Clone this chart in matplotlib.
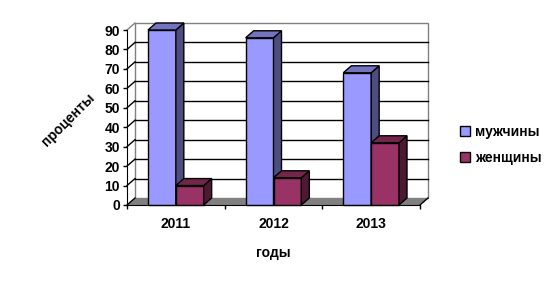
import numpy as np
import matplotlib
matplotlib.use("Agg")
import matplotlib.pyplot as plt
from matplotlib.patches import Polygon, Patch

years = ["2011", "2012", "2013"]
men = [90, 86, 68]       # мужчины
women = [10, 14, 32]     # женщины
yticks = [0, 10, 20, 30, 40, 50, 60, 70, 80, 90]

men_cols = ("#9999FF", "#4D4D80", "#7373BF")     # front, side, top
women_cols = ("#993366", "#4D1A33", "#732649")

plt.rcParams['font.family'] = ['Liberation Sans', 'DejaVu Sans']
plt.rcParams['font.weight'] = 'bold'

fig = plt.figure(figsize=(5.58, 2.86), dpi=100)
W, H = 558, 286
ax = fig.add_axes([127 / W, 81 / H, 293 / W, 175 / H])
ax.set_xlim(-0.5, 2.5)
ax.set_ylim(0, 90)

# depth of the 3d box, in pixels -> data units
dx = 8 * 3.0 / 293
dy = 7 * 90.0 / 175
x0, x1 = -0.5, 2.5
ytop = yticks[-1]

# back wall + floor
ax.add_patch(Polygon([(x0 + dx, dy), (x1 + dx, dy), (x1 + dx, ytop + dy), (x0 + dx, ytop + dy)],
                     closed=True, facecolor="white", edgecolor="#808080", lw=1, clip_on=False, zorder=1))
ax.add_patch(Polygon([(x0, 0), (x1, 0), (x1 + dx, dy), (x0 + dx, dy)],
                     closed=True, facecolor="#808080", edgecolor="none", clip_on=False, zorder=1))
ax.plot([x0, x0 + dx], [ytop, ytop + dy], color="#808080", lw=1, clip_on=False, zorder=1)

# gridlines on the back wall, diagonals on the left wall
for t in yticks:
    if 0 < t < ytop:
        ax.plot([x0 + dx, x1 + dx], [t + dy, t + dy], color="black", lw=1, clip_on=False, zorder=2)
    if t < ytop:
        ax.plot([x0, x0 + dx], [t, t + dy], color="black", lw=1, clip_on=False, zorder=2)
ax.plot([x1, x1 + dx], [0, dy], color="black", lw=1, clip_on=False, zorder=2)

bw = 0.285


def bar3d(xl, v, cols, z):
    xr = xl + bw
    ax.add_patch(Polygon([(xl, 0), (xr, 0), (xr, v), (xl, v)], closed=True,
                         facecolor=cols[0], edgecolor="black", lw=1, clip_on=False, zorder=z))
    ax.add_patch(Polygon([(xr, 0), (xr + dx, dy), (xr + dx, v + dy), (xr, v)], closed=True,
                         facecolor=cols[1], edgecolor="black", lw=1, clip_on=False, zorder=z))
    ax.add_patch(Polygon([(xl, v), (xr, v), (xr + dx, v + dy), (xl + dx, v + dy)], closed=True,
                         facecolor=cols[2], edgecolor="black", lw=1, clip_on=False, zorder=z))


for i in range(len(years)):
    bar3d(i - bw, men[i], men_cols, 3 + 2 * i)
    bar3d(i, women[i], women_cols, 4 + 2 * i)

# axes
for s in ["top", "right"]:
    ax.spines[s].set_visible(False)
ax.spines["left"].set_zorder(10)
ax.spines["bottom"].set_zorder(10)
ax.set_yticks(yticks)
ax.set_yticklabels([str(t) for t in yticks], fontsize=10, fontweight="bold")
ax.tick_params(axis="y", length=3, width=1, pad=2)
ax.set_xticks([-0.5, 0.5, 1.5, 2.5])
ax.set_xticklabels([])
ax.set_xticks(range(len(years)), minor=True)
ax.set_xticklabels(years, minor=True, fontsize=10, fontweight="bold")
ax.tick_params(axis="x", which="major", length=3, width=1)
ax.tick_params(axis="x", which="minor", length=0, pad=9)

fig.text(68 / W, 1 - 120 / H, "проценты", rotation=45, ha="center", va="center",
         fontsize=10, fontweight="bold", rotation_mode="anchor")
fig.text(273 / W, 1 - 253 / H, "годы", ha="center", va="center", fontsize=10, fontweight="bold")

handles = [Patch(facecolor=men_cols[0], edgecolor="black", lw=1),
           Patch(facecolor=women_cols[0], edgecolor="black", lw=1)]
fig.legend(handles, ["мужчины", "женщины"], loc="center left", bbox_to_anchor=(460 / W, 1 - 145 / H),
           frameon=False, prop={"weight": "bold", "size": 10}, handlelength=0.7, handleheight=0.7,
           handletextpad=0.35, labelspacing=0.85, borderpad=0, borderaxespad=0)

fig.savefig("out.png", dpi=100)
